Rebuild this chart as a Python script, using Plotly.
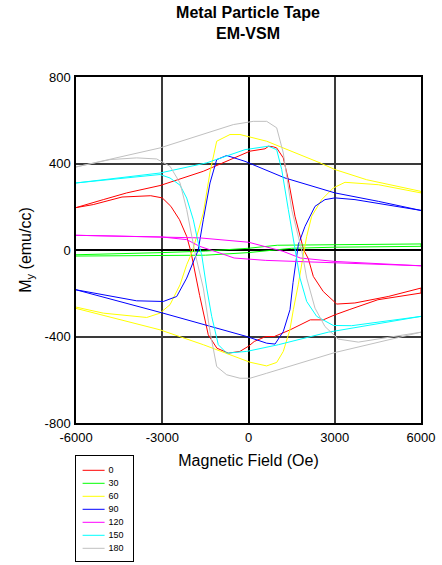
import plotly.graph_objects as go

angles = ["0", "30", "60", "90", "120", "150", "180"]
colors = ["#FF0000", "#00FF00", "#FFFF00", "#0000FF", "#FF00FF", "#00FFFF", "#C0C0C0"]

# 0 deg
h0_asc = [-6000, -5400, -4400, -3400, -3000, -2700, -2400, -2150, -2000, -1700, -1400, -1100, -700, -300, 0, 200, 600, 900, 1450, 2150, 2600, 3000, 3500, 4500, 6000]
m0_asc = [196, 210, 245, 251, 241, 202, 140, 63, -10, -210, -392, -454, -477, -469, -445, -423, -400, -400, -369, -323, -323, -300, -276, -230, -199]
h0_desc = [6000, 4860, 3700, 3070, 2600, 2254, 2080, 1920, 1617, 1385, 1210, 980, 864, 700, 574, 50, -1572, -3078, -4236, -5050, -6000]
m0_desc = [-176, -215, -245, -250, -192, -122, -40, 0, 156, 325, 426, 472, 477, 480, 468, 457, 364, 298, 264, 233, 196]

# 30 deg
h30_asc = [-6000, -3000, -1500, 0, 1500, 3000, 6000]
m30_asc = [-28, -24, -24, -12, 8, 13, 17]
h30_desc = [6000, 3000, 1000, 0, -1500, -3000, -6000]
m30_desc = [28, 26, 22, 8, -5, -12, -22]

# 60 deg
h60_asc = [-6000, -3080, -1570, 50, 630, 980, 1210, 1440, 1560, 1730, 1906, 2024, 2198, 2545, 2950, 3356, 4515, 6000]
m60_asc = [-270, -369, -438, -519, -536, -520, -469, -369, -276, -161, -22, 63, 156, 233, 287, 313, 302, 264]
h60_desc = [6000, 4110, 3008, 2487, 633, 52, -296, -643, -1106, -1339, -1572, -1800, -1975, -2150, -2382, -2730, -3078, -3540, -5050, -6000]
m60_desc = [271, 325, 372, 403, 503, 523, 534, 534, 503, 360, 171, 63, -14, -68, -161, -253, -292, -312, -292, -264]

# 90 deg
h90_asc = [-6000, -3000, -63, 633, 922, 1210, 1443, 1550, 1733, 1965, 2313, 2660, 3008, 3704, 6000]
m90_asc = [-184, -291, -400, -431, -435, -377, -276, -150, 25, 109, 202, 233, 241, 233, 183]
h90_desc = [6000, 4515, 3008, 1270, -122, -758, -1106, -1339, -1572, -1750, -2150, -2497, -2963, -3890, -6000]
m90_desc = [183, 225, 264, 333, 410, 437, 418, 310, 140, 0, -130, -215, -238, -235, -184]

# 120 deg
h120_asc = [-6000, -3000, -2150, -1700, -1000, -500, 600, 3000, 6000]
m120_asc = [68, 60, 48, 17, -14, -37, -48, -58, -73]
h120_desc = [6000, 3000, 1800, 1200, 800, 0, -1700, -3000, -6000]
m120_desc = [-73, -53, -37, -6, 9, 36, 56, 60, 68]

# 150 deg
h150_asc = [-6000, -3078, -2730, -2382, -2150, -1920, -1746, -1628, -1454, -1280, -1050, -758, -63, 1037, 2775, 6000]
m150_asc = [310, 349, 333, 300, 240, 140, 32, -22, -176, -307, -438, -477, -469, -438, -380, -310]
h150_desc = [6000, 3589, 2950, 2372, 2024, 1791, 1617, 1385, 1155, 980, 690, -122, -1454, -3078, -6000]
m150_desc = [-307, -350, -349, -307, -238, -130, 0, 187, 372, 464, 480, 464, 403, 356, 310]

# 180 deg
h180_asc = [-6000, -4817, -3890, -3193, -2730, -2382, -2150, -1975, -1860, -1572, -1339, -1106, -758, -296, 52, 633, 3008, 6000]
m180_asc = [384, 418, 426, 421, 387, 310, 187, 63, -14, -176, -377, -539, -577, -593, -593, -570, -474, -380]
h180_desc = [6000, 3820, 3123, 2660, 2313, 2024, 1850, 1502, 1210, 980, 633, 167, -528, -3078, -6000]
m180_desc = [-380, -426, -412, -354, -269, -130, 0, 187, 449, 565, 595, 595, 580, 472, 384]

series = [
    (h0_asc, m0_asc, h0_desc, m0_desc),
    (h30_asc, m30_asc, h30_desc, m30_desc),
    (h60_asc, m60_asc, h60_desc, m60_desc),
    (h90_asc, m90_asc, h90_desc, m90_desc),
    (h120_asc, m120_asc, h120_desc, m120_desc),
    (h150_asc, m150_asc, h150_desc, m150_desc),
    (h180_asc, m180_asc, h180_desc, m180_desc),
]

x_ticks = [-6000, -3000, 0, 3000, 6000]
y_ticks = [-800, -400, 0, 400, 800]

# ---- layout geometry (pixels) ----
W, H = 442, 565
L, R, T, B = 76, 21, 77, 4
plot_h = H - T - B
main_bottom_px = 423
leg_top_px, leg_bottom_px, leg_right_px = 456, 561, 133
leg_w = leg_right_px - L
leg_h = leg_bottom_px - leg_top_px
row0, row_step = 14.3, 13.0
sw_x0, sw_x1, txt_x = 6.6, 28.6, 32.5

fig = go.Figure()
for name, col, (ha, ma, hd, md) in zip(angles, colors, series):
    fig.add_trace(go.Scatter(
        x=ha + hd, y=ma + md, mode="lines", name=name,
        line=dict(color=col, width=1), showlegend=False,
        xaxis="x", yaxis="y",
    ))

# legend box drawn in its own small axis
rows = [row0 + row_step * i for i in range(len(angles))]
for name, col, ry in zip(angles, colors, rows):
    fig.add_trace(go.Scatter(
        x=[sw_x0, sw_x1], y=[ry, ry], mode="lines", line=dict(color=col, width=1),
        showlegend=False, hoverinfo="skip", xaxis="x2", yaxis="y2",
    ))
fig.add_trace(go.Scatter(
    x=[txt_x] * len(angles), y=rows, mode="text", text=angles,
    textposition="middle right", textfont=dict(size=9, color="black"),
    showlegend=False, hoverinfo="skip", xaxis="x2", yaxis="y2",
))

font = "Arial, Liberation Sans, sans-serif"
main_dom_y = [(leg_bottom_px - main_bottom_px) / plot_h, 1]
leg_dom_y = [0, leg_h / plot_h]
leg_dom_x = [0, leg_w / (W - L - R)]

fig.update_layout(
    width=W, height=H, autosize=False,
    margin=dict(l=L, r=R, t=T, b=B, autoexpand=False),
    paper_bgcolor="white", plot_bgcolor="white",
    font=dict(family=font, size=13, color="black"),
    title=dict(text="<b>Metal Particle Tape<br>EM-VSM</b>", x=248 / W, xanchor="center",
               y=1 - 18 / H, yanchor="top", font=dict(size=16, family=font)),
    showlegend=False,
    xaxis=dict(range=[-6000, 6000], tickvals=x_ticks, ticktext=[str(v) for v in x_ticks],
               domain=[0, 1], anchor="y",
               showgrid=True, gridcolor="#3a3a3a", gridwidth=1.5,
               zeroline=True, zerolinecolor="black", zerolinewidth=1.5,
               showline=True, linecolor="black", linewidth=1.5, mirror=True,
               ticks="", ticklabelstandoff=2,
               title=dict(text="Magnetic Field (Oe)", standoff=10),
               tickfont=dict(size=13), automargin=False),
    yaxis=dict(range=[-800, 800], tickvals=y_ticks, ticktext=[str(v) for v in y_ticks],
               domain=main_dom_y, anchor="x",
               showgrid=True, gridcolor="#3a3a3a", gridwidth=1.5,
               zeroline=True, zerolinecolor="black", zerolinewidth=1.5,
               showline=True, linecolor="black", linewidth=1.5, mirror=True,
               ticks="", ticklabelstandoff=1,
               title=dict(text="M<sub>y</sub> (emu/cc)", standoff=9),
               tickfont=dict(size=13), automargin=False),
    xaxis2=dict(range=[0, leg_w], domain=leg_dom_x, anchor="y2",
                showgrid=False, zeroline=False, showticklabels=False, ticks="",
                showline=True, linecolor="black", linewidth=1, mirror=True, fixedrange=True),
    yaxis2=dict(range=[leg_h, 0], domain=leg_dom_y, anchor="x2",
                showgrid=False, zeroline=False, showticklabels=False, ticks="",
                showline=True, linecolor="black", linewidth=1, mirror=True, fixedrange=True),
)

fig.write_html("out.html", config={"displayModeBar": False},
               post_script="document.body.style.margin='0px';")
